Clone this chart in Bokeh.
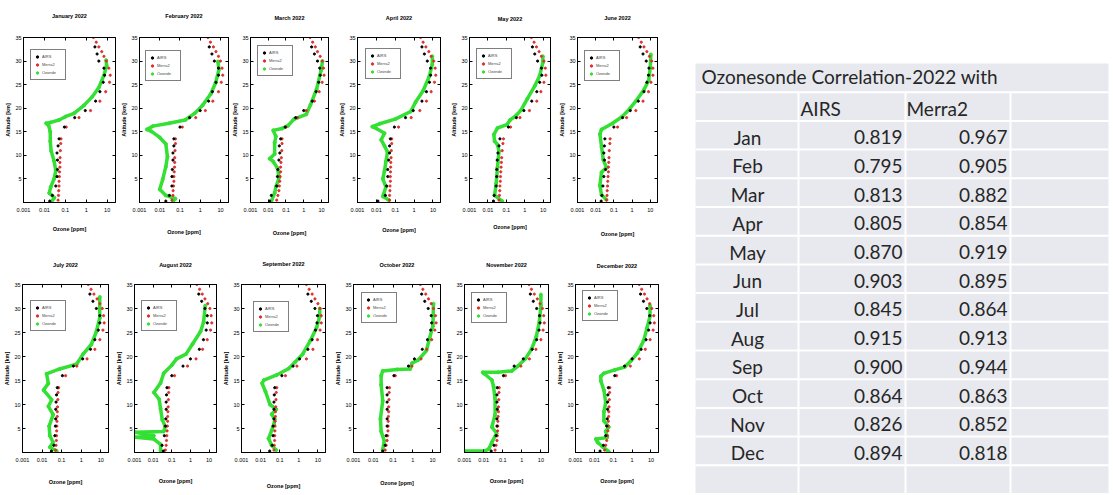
from bokeh.plotting import figure
from bokeh.layouts import row, column
from bokeh.models import Range1d, FixedTicker, Legend, LegendItem, LogAxis, LinearAxis
from bokeh.embed import file_html
from bokeh.resources import INLINE
from bokeh.core.properties import value

# ---------------- data ----------------
TITLES = ["January 2022", "February 2022", "March 2022", "April 2022", "May 2022", "June 2022",
          "July 2022", "August 2022", "September 2022", "October 2022", "November 2022", "December 2022"]
SERIES_NAMES = ["AIRS", "Merra2", "Ozonde"]
X_TICKS = [0.001, 0.01, 0.1, 1, 10]
X_TICK_LABELS = ["0.001", "0.01", "0.1", "1", "10"]
Y_TICKS = [5, 10, 15, 20, 25, 30, 35]

AIRS_ALT = [0.3, 1.5, 3.5, 5.5, 7.0, 9.0, 10.5, 12.0, 13.5, 16.0, 18.0, 19.5, 21.5, 23.5, 25.5, 27.0, 28.5, 30.0, 31.5, 33.0]
MERRA_ALT = [0.5, 1.5, 2.5, 3.5, 4.5, 5.5, 6.5, 7.5, 8.5, 9.5, 11.0, 12.5, 13.5, 16.0, 18.0, 19.5, 21.5, 23.5, 25.5, 27.0,
             28.5, 30.0, 31.0, 32.0, 33.0, 34.0, 35.0]

JAN_AIRS = [0.018, 0.024, 0.035, 0.04, 0.042, 0.042, 0.04, 0.045, 0.05, 0.09, 0.28, 0.9, 2.8, 4.5, 6.5, 7.5, 7.0, 4.0, 3.3, 2.6]
FEB_AIRS = [0.02, 0.03, 0.04, 0.04, 0.042, 0.045, 0.045, 0.05, 0.05, 0.1, 0.3, 1.0, 2.6, 4.0, 6.0, 8.0, 8.0, 5.0, 3.8, 2.8]
MAR_AIRS = [0.012, 0.015, 0.03, 0.033, 0.035, 0.04, 0.045, 0.042, 0.05, 0.09, 0.35, 1.0, 3.0, 5.0, 7.0, 8.5, 8.0, 6.0, 4.0, 2.8]
APR_AIRS = [0.012, 0.03, 0.035, 0.04, 0.04, 0.045, 0.05, 0.05, 0.055, 0.09, 0.35, 0.9, 2.6, 4.5, 6.5, 7.5, 7.5, 5.0, 3.5, 2.6]
MAY_AIRS = [0.02, 0.022, 0.028, 0.03, 0.03, 0.032, 0.035, 0.04, 0.045, 0.13, 0.35, 0.9, 2.4, 4.5, 6.5, 8.5, 8.0, 5.0, 3.5, 2.6]
JUN_AIRS = [0.02, 0.022, 0.025, 0.028, 0.035, 0.03, 0.028, 0.03, 0.032, 0.1, 0.3, 0.8, 2.2, 4.5, 6.5, 8.0, 8.5, 6.0, 4.0, 2.8]
JUL_AIRS = [0.03, 0.04, 0.045, 0.048, 0.05, 0.05, 0.052, 0.055, 0.06, 0.11, 0.4, 1.2, 3.0, 5.0, 7.5, 9.0, 9.0, 6.0, 4.0, 2.8]
AUG_AIRS = [0.035, 0.03, 0.04, 0.045, 0.048, 0.05, 0.05, 0.052, 0.055, 0.1, 0.4, 1.0, 3.0, 5.0, 7.0, 8.0, 8.0, 6.0, 4.0, 2.8]
SEP_AIRS = [0.03, 0.04, 0.045, 0.045, 0.05, 0.05, 0.05, 0.052, 0.055, 0.13, 0.5, 1.1, 3.0, 5.0, 7.5, 9.0, 9.5, 7.0, 4.5, 3.0]
OCT_AIRS = [0.03, 0.04, 0.045, 0.05, 0.05, 0.05, 0.05, 0.05, 0.05, 0.11, 0.6, 1.2, 3.0, 5.5, 8.0, 9.0, 8.5, 6.0, 4.0, 2.8]
NOV_AIRS = [0.025, 0.035, 0.045, 0.05, 0.05, 0.052, 0.05, 0.05, 0.052, 0.11, 0.4, 1.2, 3.5, 6.0, 8.0, 9.0, 8.5, 6.0, 4.0, 2.8]
DEC_AIRS = [0.02, 0.03, 0.04, 0.045, 0.048, 0.05, 0.05, 0.052, 0.055, 0.12, 0.4, 1.0, 3.0, 5.5, 7.5, 9.0, 8.5, 6.0, 4.0, 2.8]

JAN_MERRA = [0.045, 0.047, 0.048, 0.05, 0.05, 0.052, 0.053, 0.055, 0.055, 0.056, 0.058, 0.06, 0.062, 0.11, 0.45, 1.6, 4.5, 8.5, 13, 14, 12, 9, 7, 5.5, 4, 3, 2.2]
FEB_MERRA = [0.04, 0.045, 0.046, 0.048, 0.05, 0.05, 0.052, 0.054, 0.055, 0.055, 0.057, 0.06, 0.06, 0.13, 0.6, 1.8, 4.2, 8.0, 11, 13, 12, 10, 8, 6, 4.5, 3.2, 2.4]
MAR_MERRA = [0.03, 0.035, 0.04, 0.042, 0.045, 0.047, 0.05, 0.05, 0.052, 0.055, 0.058, 0.06, 0.06, 0.1, 0.45, 1.4, 4.0, 7.5, 11, 14, 13, 11, 8.5, 6, 4.5, 3.2, 2.3]
APR_MERRA = [0.05, 0.05, 0.052, 0.053, 0.055, 0.055, 0.056, 0.057, 0.058, 0.06, 0.062, 0.065, 0.065, 0.15, 0.7, 2.0, 4.5, 8.0, 12, 14, 13, 11, 8, 6, 4.2, 3, 2.2]
MAY_MERRA = [0.04, 0.042, 0.044, 0.045, 0.047, 0.048, 0.05, 0.052, 0.054, 0.056, 0.06, 0.065, 0.07, 0.17, 0.55, 1.8, 4.5, 7.5, 11, 14, 13, 11, 8, 6, 4.3, 3.2, 2.3]
JUN_MERRA = [0.04, 0.042, 0.043, 0.045, 0.046, 0.048, 0.05, 0.05, 0.052, 0.054, 0.056, 0.06, 0.062, 0.16, 0.5, 1.6, 4.0, 8.0, 11, 14, 14, 12, 9, 6.5, 4.5, 3.2, 2.3]
JUL_MERRA = [0.05, 0.052, 0.054, 0.055, 0.056, 0.057, 0.058, 0.06, 0.06, 0.062, 0.064, 0.066, 0.07, 0.16, 0.6, 2.0, 5.0, 9.0, 13, 15, 14, 12, 9, 6.5, 4.5, 3.2, 2.3]
AUG_MERRA = [0.045, 0.05, 0.052, 0.054, 0.056, 0.058, 0.06, 0.06, 0.062, 0.064, 0.066, 0.068, 0.07, 0.14, 0.7, 2.0, 4.5, 8.0, 12, 14, 13, 11, 8.5, 6, 4.3, 3.1, 2.2]
SEP_MERRA = [0.05, 0.052, 0.054, 0.055, 0.056, 0.057, 0.058, 0.06, 0.06, 0.062, 0.064, 0.066, 0.07, 0.2, 0.8, 2.5, 5.5, 9.5, 13, 15, 15, 13, 10, 7, 5, 3.5, 2.5]
OCT_MERRA = [0.04, 0.045, 0.05, 0.053, 0.055, 0.056, 0.057, 0.058, 0.06, 0.06, 0.062, 0.064, 0.066, 0.13, 0.9, 2.6, 5.0, 9.0, 13, 15, 14, 11, 8.5, 6.2, 4.5, 3.2, 2.4]
NOV_MERRA = [0.04, 0.045, 0.05, 0.052, 0.054, 0.055, 0.056, 0.058, 0.06, 0.06, 0.062, 0.064, 0.066, 0.14, 0.9, 2.5, 5.5, 10, 13, 15, 14, 12, 9, 6.5, 4.5, 3.2, 2.4]
DEC_MERRA = [0.035, 0.04, 0.045, 0.05, 0.052, 0.054, 0.055, 0.057, 0.058, 0.06, 0.062, 0.064, 0.066, 0.15, 0.8, 2.4, 5.0, 9.0, 13, 15, 14, 11, 8.5, 6.2, 4.5, 3.2, 2.4]

JAN_SONDE_ALT = [0.2, 1.0, 2.0, 3.3, 5.0, 6.7, 8.8, 10.9, 13.0, 15.0, 16.3, 16.8, 17.0, 17.5, 18.2, 18.9, 20.6, 22.4, 24.4, 26.9, 29.0, 30.2]
JAN_SONDE_PPM = [0.022, 0.030, 0.017, 0.020, 0.029, 0.035, 0.029, 0.021, 0.019, 0.019, 0.016, 0.012, 0.020, 0.050, 0.100, 0.26, 0.78, 1.9, 4.0, 6.9, 9.4, 9.0]
FEB_SONDE_ALT = [0.3, 0.8, 1.5, 2.8, 4.9, 7.6, 9.7, 12.4, 13.8, 15.1, 15.5, 16.2, 16.8, 17.5, 18.9, 20.6, 23.0, 25.4, 28.2, 29.9]
FEB_SONDE_PPM = [0.045, 0.06, 0.02, 0.010, 0.014, 0.020, 0.024, 0.020, 0.010, 0.0039, 0.0023, 0.0046, 0.029, 0.18, 0.53, 1.3, 3.3, 5.8, 8.4, 7.5]
MAR_SONDE_ALT = [0.3, 2.0, 3.3, 5.3, 7.3, 8.7, 9.3, 10.3, 12.7, 14.0, 15.3, 15.7, 16.3, 17.7, 18.7, 20.7, 24.0, 28.0, 30.0]
MAR_SONDE_PPM = [0.015, 0.023, 0.027, 0.041, 0.033, 0.019, 0.012, 0.023, 0.023, 0.027, 0.019, 0.06, 0.13, 0.29, 1.4, 2.4, 5.3, 9.5, 11.5]
APR_SONDE_ALT = [0.5, 1.3, 3.3, 5.0, 6.7, 8.7, 10.7, 12.0, 13.3, 14.7, 15.7, 16.1, 16.7, 17.7, 19.3, 21.3, 23.7, 26.7, 29.3, 31.0]
APR_SONDE_PPM = [0.047, 0.022, 0.032, 0.022, 0.027, 0.032, 0.039, 0.027, 0.018, 0.027, 0.010, 0.006, 0.015, 0.10, 0.66, 1.2, 3.0, 6.3, 9.2, 9.2]
MAY_SONDE_ALT = [0.3, 1.5, 4.0, 7.4, 10.9, 12.3, 13.0, 14.4, 15.8, 16.5, 17.5, 18.5, 19.6, 22.0, 24.8, 26.9, 29.7, 31.0]
MAY_SONDE_PPM = [0.06, 0.023, 0.028, 0.033, 0.040, 0.033, 0.023, 0.021, 0.033, 0.108, 0.16, 0.35, 0.63, 1.37, 3.6, 6.5, 9.6, 9.6]
JUN_SONDE_ALT = [0.6, 1.6, 3.6, 6.4, 7.4, 9.1, 11.8, 14.5, 15.5, 16.8, 18.2, 19.9, 21.6, 23.9, 25.9, 28.6, 31.4]
JUN_SONDE_PPM = [0.039, 0.021, 0.017, 0.021, 0.039, 0.026, 0.021, 0.017, 0.021, 0.085, 0.28, 0.75, 1.68, 4.5, 8.2, 10.0, 10.8]
JUL_SONDE_ALT = [0.3, 1.1, 2.1, 3.5, 5.5, 7.9, 9.6, 11.0, 13.0, 14.4, 16.4, 17.4, 18.4, 20.5, 22.5, 25.2, 28.0, 32.4]
JUL_SONDE_PPM = [0.056, 0.025, 0.037, 0.025, 0.023, 0.037, 0.021, 0.031, 0.012, 0.021, 0.017, 0.08, 0.58, 1.25, 3.3, 6.0, 8.9, 8.9]
AUG_SONDE_ALT = [0.4, 1.7, 2.8, 3.2, 3.5, 3.8, 4.2, 4.4, 5.4, 6.8, 9.1, 11.1, 12.5, 14.5, 16.5, 18.2, 19.5, 20.5, 22.6, 25.2, 27.2, 30.6]
AUG_SONDE_PPM = [0.025, 0.025, 0.011, 0.0011, 0.011, 0.004, 0.0011, 0.037, 0.045, 0.031, 0.025, 0.021, 0.011, 0.025, 0.037, 0.10, 0.18, 0.58, 1.3, 3.5, 5.1, 6.2]
SEP_SONDE_ALT = [0.5, 1.5, 2.9, 4.6, 5.9, 6.9, 8.0, 9.0, 10.0, 12.7, 14.4, 15.1, 16.1, 17.5, 18.8, 20.5, 23.3, 26.0, 28.4, 30.0]
SEP_SONDE_PPM = [0.066, 0.038, 0.026, 0.038, 0.05, 0.055, 0.038, 0.066, 0.031, 0.018, 0.012, 0.015, 0.066, 0.30, 0.63, 1.6, 4.0, 8.5, 12.5, 12.5]
OCT_SONDE_ALT = [0.6, 2.4, 4.4, 7.0, 10.8, 14.1, 16.0, 17.0, 17.3, 17.4, 18.6, 19.3, 21.2, 23.8, 26.4, 31.0]
OCT_SONDE_PPM = [0.030, 0.036, 0.025, 0.023, 0.030, 0.025, 0.025, 0.030, 0.16, 0.74, 0.9, 1.9, 4.8, 7.0, 10.4, 11.0]
NOV_SONDE_ALT = [0.3, 0.3, 0.8, 2.1, 4.0, 5.3, 7.9, 11.2, 13.8, 15.1, 16.4, 16.7, 16.7, 17.0, 18.0, 19.6, 21.6, 24.2, 27.4, 30.6, 32.9]
NOV_SONDE_PPM = [0.001, 0.012, 0.019, 0.027, 0.048, 0.027, 0.040, 0.040, 0.033, 0.027, 0.011, 0.009, 0.058, 0.30, 0.63, 1.6, 3.3, 5.8, 8.4, 10.0, 10.0]
DEC_SONDE_ALT = [0.2, 1.2, 2.1, 2.8, 3.1, 4.4, 5.3, 6.6, 8.5, 10.4, 13.0, 14.9, 15.9, 16.5, 17.2, 17.8, 19.1, 20.7, 23.3, 25.8, 28.4, 30.6]
DEC_SONDE_PPM = [0.058, 0.027, 0.015, 0.012, 0.048, 0.040, 0.058, 0.032, 0.032, 0.040, 0.032, 0.022, 0.022, 0.032, 0.12, 0.40, 0.87, 1.9, 4.1, 6.0, 8.9, 8.9]

TABLE_TITLE = "Ozonesonde Correlation-2022 with"
TABLE_COLS = ["AIRS", "Merra2"]
MONTHS = ["Jan", "Feb", "Mar", "Apr", "May", "Jun", "Jul", "Aug", "Sep", "Oct", "Nov", "Dec"]
AIRS_CORR = [0.819, 0.795, 0.813, 0.805, 0.870, 0.903, 0.845, 0.915, 0.900, 0.864, 0.826, 0.894]
MERRA_CORR = [0.967, 0.905, 0.882, 0.854, 0.919, 0.895, 0.864, 0.913, 0.944, 0.863, 0.852, 0.818]

AIRS_ALL = [JAN_AIRS, FEB_AIRS, MAR_AIRS, APR_AIRS, MAY_AIRS, JUN_AIRS, JUL_AIRS, AUG_AIRS, SEP_AIRS, OCT_AIRS, NOV_AIRS, DEC_AIRS]
MERRA_ALL = [JAN_MERRA, FEB_MERRA, MAR_MERRA, APR_MERRA, MAY_MERRA, JUN_MERRA, JUL_MERRA, AUG_MERRA, SEP_MERRA, OCT_MERRA, NOV_MERRA, DEC_MERRA]
SONDE_ALT_ALL = [JAN_SONDE_ALT, FEB_SONDE_ALT, MAR_SONDE_ALT, APR_SONDE_ALT, MAY_SONDE_ALT, JUN_SONDE_ALT,
                 JUL_SONDE_ALT, AUG_SONDE_ALT, SEP_SONDE_ALT, OCT_SONDE_ALT, NOV_SONDE_ALT, DEC_SONDE_ALT]
SONDE_PPM_ALL = [JAN_SONDE_PPM, FEB_SONDE_PPM, MAR_SONDE_PPM, APR_SONDE_PPM, MAY_SONDE_PPM, JUN_SONDE_PPM,
                 JUL_SONDE_PPM, AUG_SONDE_PPM, SEP_SONDE_PPM, OCT_SONDE_PPM, NOV_SONDE_PPM, DEC_SONDE_PPM]

# ---------------- layout / style ----------------
FONT = "Liberation Sans"
TFONT = "Lato"
GREEN = "#33e033"
RED = "#e0302c"
X_LO, X_HI = 0.001, 25
Y_LO, Y_HI = 0, 35
ROW1_TOP, ROW1_H = 0, 240
ROW2_TOP, ROW2_H = 240, 254
# fig_x, fig_w, frame_l, frame_r, frame_t, frame_b, title_y, xlabel_y, legend_dx, legend_dy (page px)
PANEL_GEOM = [
    (0, 118, 23, 115, 34, 204, 15, 227, 7, 19),
    (118, 111, 136, 228, 37, 207, 18, 233, 6, 20),
    (229, 107, 243, 328, 34, 208, 17, 235, 7, 19),
    (336, 112, 355, 440, 32, 204, 15, 228, 8, 20),
    (448, 108, 467, 550, 35, 207, 19, 228, 7, 20),
    (556, 124, 573, 657, 32, 202, 15, 230, 7, 20),
    (0, 113, 22, 108, 282, 452, 265, 478, 8, 20),
    (113, 107, 133, 216, 282, 453, 265, 478, 7, 21),
    (220, 112, 237, 325, 280, 452, 262, 482, 12, 23),
    (332, 111, 352, 440, 283, 460, 266, 487, 8, 19),
    (443, 111, 460, 548, 284, 463, 267, 488, 7, 21),
    (554, 126, 573, 658, 282, 463, 266, 488, 7, 21),
]
LEG_H = 29


def style_axis(ax):
    ax.axis_line_color = "black"
    ax.major_tick_in = 3
    ax.major_tick_out = 0
    ax.minor_tick_line_color = None
    ax.major_label_text_font = FONT
    ax.major_label_text_font_size = "5.5px"
    ax.major_label_text_color = "black"
    ax.axis_label_text_font = FONT
    ax.axis_label_text_font_size = "5.5px"
    ax.axis_label_text_font_style = "bold"
    ax.axis_label_text_color = "black"


def panel(k):
    fx, fw, fl, fr, ft, fb, ty, ly, ldx, ldy = PANEL_GEOM[k]
    top, h = (ROW1_TOP, ROW1_H) if k < 6 else (ROW2_TOP, ROW2_H)
    p = figure(width=fw, height=h, x_axis_type="log",
               x_range=Range1d(X_LO, X_HI), y_range=Range1d(Y_LO, Y_HI),
               toolbar_location=None, output_backend="svg",
               min_border_left=fl - fx, min_border_right=fx + fw - fr,
               min_border_top=ft - top, min_border_bottom=top + h - fb)
    p.outline_line_color = "black"
    p.outline_line_alpha = 1
    p.grid.visible = False
    p.background_fill_color = "white"

    style_axis(p.xaxis[0])
    style_axis(p.yaxis[0])
    p.xaxis.ticker = FixedTicker(ticks=X_TICKS)
    p.xaxis.major_label_overrides = dict(zip(X_TICKS, X_TICK_LABELS))
    p.xaxis.major_label_standoff = 5
    p.xaxis.axis_label = "Ozone [ppm]"
    p.xaxis.axis_label_standoff = max(0, ly - fb - 12)
    p.yaxis.ticker = FixedTicker(ticks=Y_TICKS)
    p.yaxis.major_label_standoff = 2
    p.yaxis.axis_label = "Altitude [km]"
    p.yaxis.axis_label_standoff = 1

    # mirrored tick marks on the top and right edges (empty tick labels);
    # the top axis carries the panel title as its axis label
    top_ax = LogAxis(ticker=FixedTicker(ticks=X_TICKS), major_label_overrides={t: "" for t in X_TICKS},
                     major_tick_in=3, major_tick_out=0, minor_tick_line_color=None, axis_line_color="black",
                     major_label_standoff=0, axis_label=TITLES[k],
                     axis_label_standoff=max(0, int(round(ft - ty))))
    style_axis(top_ax)
    right_ax = LinearAxis(ticker=FixedTicker(ticks=Y_TICKS), major_label_overrides={t: "" for t in Y_TICKS},
                          major_tick_in=3, major_tick_out=0, minor_tick_line_color=None,
                          axis_line_color="black", major_label_standoff=0)
    p.add_layout(top_ax, "above")
    p.add_layout(right_ax, "right")

    p.line(SONDE_PPM_ALL[k], SONDE_ALT_ALL[k], line_width=3.5, color=GREEN)
    r_s = p.scatter(SONDE_PPM_ALL[k], SONDE_ALT_ALL[k], size=3, color=GREEN)
    r_m = p.scatter(MERRA_ALL[k], MERRA_ALT, size=2.2, color=RED)
    r_a = p.scatter(AIRS_ALL[k], AIRS_ALT, size=2.2, color="black")

    leg = Legend(items=[LegendItem(label=SERIES_NAMES[0], renderers=[r_a]),
                        LegendItem(label=SERIES_NAMES[1], renderers=[r_m]),
                        LegendItem(label=SERIES_NAMES[2], renderers=[r_s])],
                 location=(ldx, (fb - ft) - ldy - LEG_H))
    leg.label_text_font = FONT
    leg.label_text_font_size = "4px"
    leg.label_height = 7
    leg.glyph_height = 7
    leg.glyph_width = 6
    leg.label_standoff = 2
    leg.spacing = 1
    leg.padding = 3
    leg.margin = 0
    leg.border_line_color = "black"
    leg.border_line_width = 1
    leg.background_fill_alpha = 1
    p.add_layout(leg)
    return p


panels = [panel(k) for k in range(12)]

# ---------------- table ----------------
TB_X0, TB_X1 = 680, 1110
TB_TOP_PAGE, ROW_PITCH = 63, 28.7
CELL_L, COL1, COL2, COL3, CELL_R = 695, 798, 905, 1010, 1108
CELL = "#e8e9ef"
TEXT = "#262626"
n_rows = 2 + len(MONTHS) + 1
TB_H = ROW1_H + ROW2_H
tb = figure(width=TB_X1 - TB_X0, height=TB_H,
            x_range=Range1d(TB_X0, TB_X1),
            y_range=Range1d((TB_H - TB_TOP_PAGE) / ROW_PITCH, (0 - TB_TOP_PAGE) / ROW_PITCH),
            x_axis_type=None, y_axis_type=None, toolbar_location=None, output_backend="svg",
            min_border=0)
tb.outline_line_color = None
tb.quad(left=[CELL_L], right=[CELL_R], top=[0], bottom=[n_rows + 1], color=CELL, line_color=None)
seps = list(range(1, n_rows + 1))
tb.segment(x0=[CELL_L] * len(seps), x1=[CELL_R] * len(seps), y0=seps, y1=seps, line_color="white", line_width=2)
tb.segment(x0=[COL1, COL2, COL3], x1=[COL1, COL2, COL3], y0=[1, 1, 1], y1=[n_rows + 1] * 3,
           line_color="white", line_width=2)


def ttext(xs, ys, texts, align, dy=2):
    tb.text(x=xs, y=ys, text=texts, text_font=value(TFONT), text_font_size="19px", text_color=TEXT,
            text_align=align, text_baseline="middle", y_offset=dy)


ttext([CELL_L + 6], [0.5], [TABLE_TITLE], "left", dy=-1)
ttext([COL1 + 2, COL2 + 1], [1.5, 1.5], TABLE_COLS, "left")
ys = [2.5 + i for i in range(len(MONTHS))]
ttext([(CELL_L + COL1) / 2 + 0.5] * len(MONTHS), ys, MONTHS, "center")
ttext([COL2 - 3] * len(MONTHS), ys, ["%.3f" % v for v in AIRS_CORR], "right")
ttext([COL3 - 3] * len(MONTHS), ys, ["%.3f" % v for v in MERRA_CORR], "right")

layout = row(column(row(*panels[:6]), row(*panels[6:])), tb)
open("out.html", "w").write(file_html(layout, INLINE))
